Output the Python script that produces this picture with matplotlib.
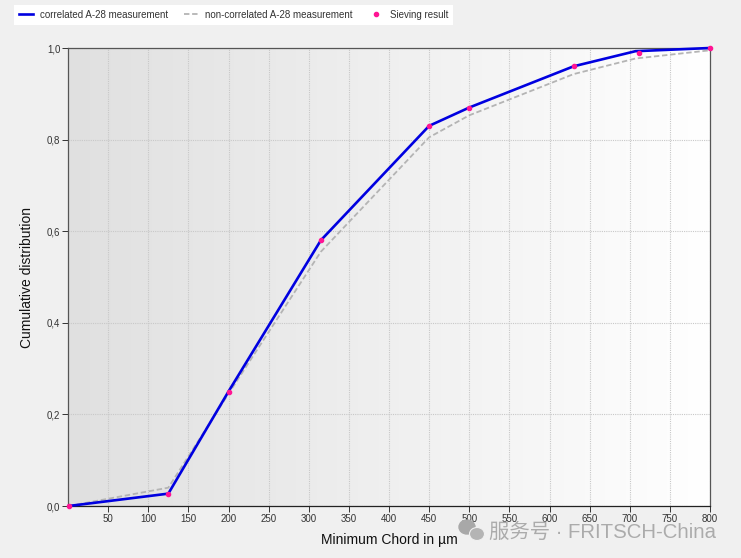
import numpy as np
import matplotlib
matplotlib.use('Agg')
import matplotlib.pyplot as plt
from matplotlib.patches import Ellipse

plt.rcParams['font.family'] = ['Liberation Sans', 'Noto Sans CJK SC', 'DejaVu Sans']

# values
chord_um = [1, 125, 200, 315, 450, 500, 630, 707, 800]
correlated = [0.0, 0.027, 0.25, 0.58, 0.83, 0.87, 0.96, 0.993, 1.0]
non_correlated = [0.0, 0.04, 0.245, 0.555, 0.805, 0.853, 0.943, 0.977, 0.995]
sieve_um = [1, 125, 200, 315, 450, 500, 630, 711, 800]
sieve_result = [0.0, 0.027, 0.25, 0.58, 0.83, 0.87, 0.96, 0.989, 1.0]

x_ticks = list(range(50, 801, 50))
y_ticks = [0.0, 0.2, 0.4, 0.6, 0.8, 1.0]
y_labels = ['0,0', '0,2', '0,4', '0,6', '0,8', '1,0']

W, H = 741, 558
fig = plt.figure(figsize=(W / 100, H / 100), dpi=100, facecolor='#f0f0f0')
ax = fig.add_axes([68 / W, 1 - 506 / H, (710 - 68) / W, (506 - 48) / H])

# grey to white background
grad = np.linspace(0, 1, 256).reshape(1, -1)
ax.imshow(grad, extent=[0, 800, 0, 1], aspect='auto', cmap=matplotlib.colors.LinearSegmentedColormap.from_list('bg', ['#e0e0e0', '#ffffff']), zorder=0)

ax.grid(True, color='#c8c8c8', linestyle=(0, (1, 1)), linewidth=0.8, zorder=1)
ax.plot(chord_um, non_correlated, color='#b4b4b4', linestyle='--', linewidth=1.3, dashes=(3, 1.5), label='non-correlated A-28 measurement', zorder=2, clip_on=False)
ax.plot(chord_um, correlated, color='#0000e0', linewidth=1.9, label='correlated A-28 measurement', zorder=3, clip_on=False)
ax.plot(sieve_um, sieve_result, linestyle='none', marker='o', markersize=3, color='#ff1493', label='Sieving result', zorder=4, clip_on=False)

ax.set_xlim(0, 800)
ax.set_ylim(0, 1)
ax.set_xticks(x_ticks)
ax.set_yticks(y_ticks)
ax.set_yticklabels(y_labels)
ax.tick_params(labelsize=7, length=4, width=0.7, color='#333333', labelcolor='#333333', pad=1.5)
for s in ['top', 'right', 'left']:
    ax.spines[s].set_color('#555555')
ax.spines['bottom'].set_color('#222222')
for s in ax.spines.values():
    s.set_linewidth(0.9)

ax.set_xlabel('Minimum Chord in µm', fontsize=10, color='#111111', labelpad=7)
ax.set_ylabel('Cumulative distribution', fontsize=10, color='#111111')
ax.yaxis.set_label_coords(-34 / (710 - 68), 0.5)

handles, labels = ax.get_legend_handles_labels()
order = [1, 0, 2]
leg = fig.legend([handles[i] for i in order], [labels[i] for i in order], ncol=3, fontsize=7,
                 loc='upper left', bbox_to_anchor=(14 / W, 1 - 5 / H), borderaxespad=0,
                 frameon=True, facecolor='white', edgecolor='none', framealpha=1, fancybox=False,
                 columnspacing=1.6, handlelength=1.5, handletextpad=0.7, borderpad=0.5)
for t in leg.get_texts():
    t.set_color('#333333')

# watermark
fig.text(489 / W, 1 - 532 / H, '服务号 · FRITSCH-China', fontsize=14.7, color='#a8a8a8', va='center', ha='left', alpha=0.95, zorder=10)
fig.add_artist(Ellipse((467 / W, 1 - 527 / H), 16 / W, 14 / H, color='#a8a8a8', transform=fig.transFigure, zorder=10))
fig.add_artist(Ellipse((477 / W, 1 - 534 / H), 15 / W, 13 / H, facecolor='#b4b4b4', edgecolor='#f0f0f0', linewidth=0.8, transform=fig.transFigure, zorder=10))

fig.savefig('out.png', dpi=100, facecolor=fig.get_facecolor())
